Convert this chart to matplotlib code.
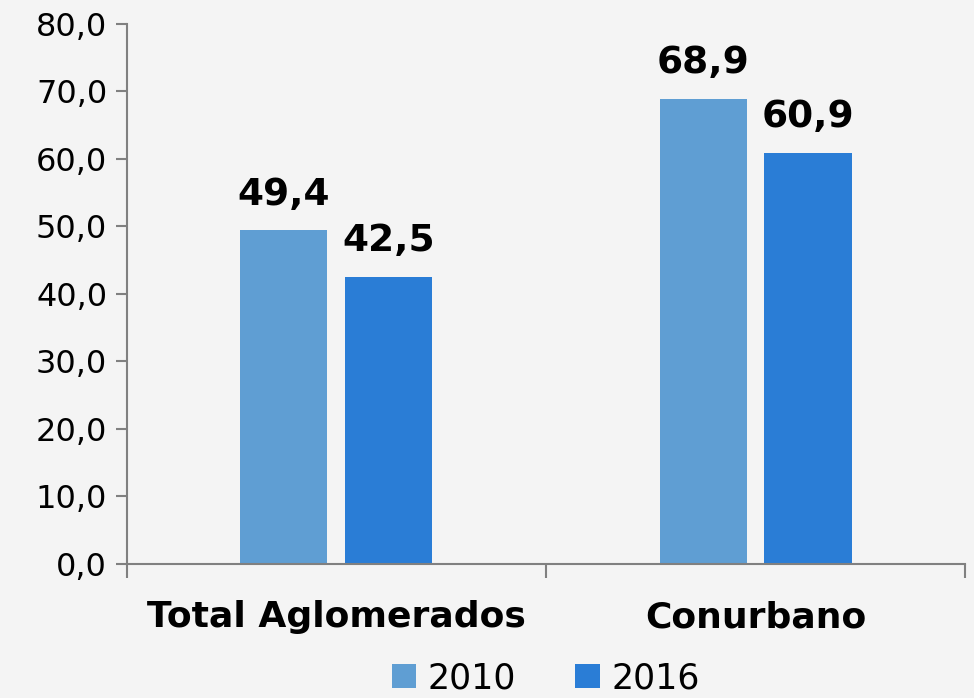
import matplotlib.pyplot as plt
import numpy as np

categories = ['Total Aglomerados', 'Conurbano']
years = ['2010', '2016']
values_2010 = [49.4, 68.9]
values_2016 = [42.5, 60.9]
colors = ['#5F9ED3', '#2A7DD6']
bg = '#F4F4F4'

fig = plt.figure(figsize=(9.74, 6.98), dpi=100, facecolor=bg)
ax = fig.add_axes([0.130, 0.192, 0.861, 0.774], facecolor=bg)

x = np.arange(len(categories))
w = 0.208
series = [values_2010, values_2016]
for i, (vals, col, yr) in enumerate(zip(series, colors, years)):
    pos = x + (i - 0.5) * 0.25
    bars = ax.bar(pos, vals, w, color=col, label=yr, zorder=2)
    for b, v in zip(bars, vals):
        ax.text(b.get_x() + b.get_width() / 2, v + 2.6, ('%.1f' % v).replace('.', ','),
                ha='center', va='bottom', fontsize=27, fontweight='bold')

ax.set_xlim(-0.5, 1.5)
ax.set_ylim(0, 80)
ax.set_yticks(np.arange(0, 81, 10))
ax.set_yticklabels([('%.1f' % t).replace('.', ',') for t in np.arange(0, 81, 10)], fontsize=23)
ax.set_xticks([-0.5, 0.5, 1.5])
ax.set_xticklabels([])
ax.set_xticks(x, minor=True)
ax.set_xticklabels(categories, minor=True, fontsize=26, fontweight='bold')
ax.tick_params(axis='x', which='minor', length=0, pad=26)
ax.tick_params(axis='x', which='major', length=10, color='#808080', width=1.5)
ax.tick_params(axis='y', length=8, color='#808080', width=1.5, pad=6)

for s in ['top', 'right']:
    ax.spines[s].set_visible(False)
for s in ['left', 'bottom']:
    ax.spines[s].set_color('#808080')
    ax.spines[s].set_linewidth(1.5)

ax.legend(loc='upper center', bbox_to_anchor=(0.5, -0.135), ncol=2, frameon=False,
          fontsize=25, handlelength=0.7, handleheight=0.7, handletextpad=0.35,
          columnspacing=1.7, borderpad=0.2)

plt.savefig('out.png', dpi=100, facecolor=bg)
plt.close('all')
